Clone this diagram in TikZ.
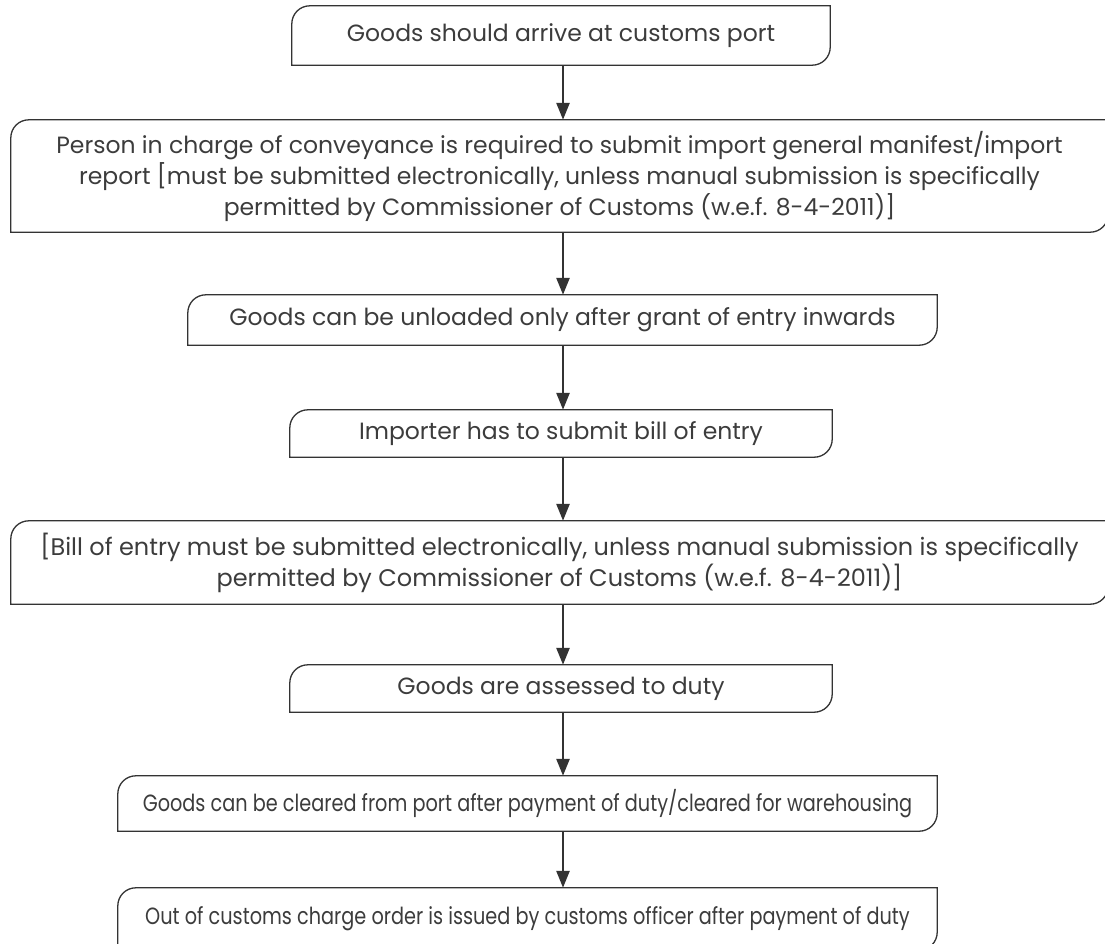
\documentclass[tikz,border=0pt]{standalone}
\usepackage{fontspec}
\setmainfont{Poppins}
\usetikzlibrary{positioning, arrows.meta}
\definecolor{inkgray}{HTML}{333333}
\definecolor{textgray}{HTML}{3C3C3C}

\begin{document}
\begin{tikzpicture}[x=1pt, y=1pt,
    stage/.style={minimum height=#1, inner sep=0pt, align=center, text=textgray, font=\fontsize{23.5}{31}\selectfont},
    tight/.style={font=\addfontfeatures{FakeStretch=0.82}\fontsize{23.5}{31}\selectfont},
    outline/.style={draw=inkgray, line width=1.3pt},
    arr/.style={-{Triangle[length=17pt, width=13pt]}, line width=2.6pt, draw=inkgray}
]
\useasboundingbox (0,0) rectangle (1105,-944);
\coordinate (spine) at (563,0);

\node[stage=59, minimum width=538] (arrive) at (561,-35.5) {Goods should arrive at customs port};
\node[stage=112, minimum width=1097] (manifest) at (559.5,-176) {Person in charge of conveyance is required to submit import general manifest/import\\report [must be submitted electronically, unless manual submission is specifically\\permitted by Commissioner of Customs (w.e.f. 8-4-2011)]};
\node[stage=50, minimum width=749] (unload) at (562.5,-320) {Goods can be unloaded only after grant of entry inwards};
\node[stage=47, minimum width=542] (bill) at (561,-433.5) {Importer has to submit bill of entry};
\node[stage=83, minimum width=1097, font=\fontsize{24}{31}\selectfont] (online) at (559.5,-562.5) {[Bill of entry must be submitted electronically, unless manual submission is specifically\\permitted by Commissioner of Customs (w.e.f. 8-4-2011)]};
\node[stage=47, minimum width=542] (assess) at (561,-688.5) {Goods are assessed to duty};
\node[stage=55, minimum width=819, tight] (clear) at (527.5,-803.5) {Goods can be cleared from port after payment of duty/cleared for warehousing};
\node[stage=62, minimum width=819, tight] (order) at (527.5,-919) {Out of customs charge order is issued by customs officer after payment of duty};

% box outlines: round top left and bottom right only
\foreach \n in {arrive,manifest,unload,bill,online,assess,clear,order}
  \draw[outline] (\n.south west) -- ([yshift=-18pt]\n.north west) arc[start angle=180, end angle=90, radius=18pt]
    -- (\n.north east) -- ([yshift=18pt]\n.south east) arc[start angle=0, end angle=-90, radius=18pt] -- cycle;

\draw[arr] (arrive.south -| spine) -- (manifest.north -| spine);
\draw[arr] (manifest.south -| spine) -- (unload.north -| spine);
\draw[arr] (unload.south -| spine) -- (bill.north -| spine);
\draw[arr] (bill.south -| spine) -- (online.north -| spine);
\draw[arr] (online.south -| spine) -- (assess.north -| spine);
\draw[arr] (assess.south -| spine) -- (clear.north -| spine);
\draw[arr] (clear.south -| spine) -- (order.north -| spine);
\end{tikzpicture}
\end{document}
